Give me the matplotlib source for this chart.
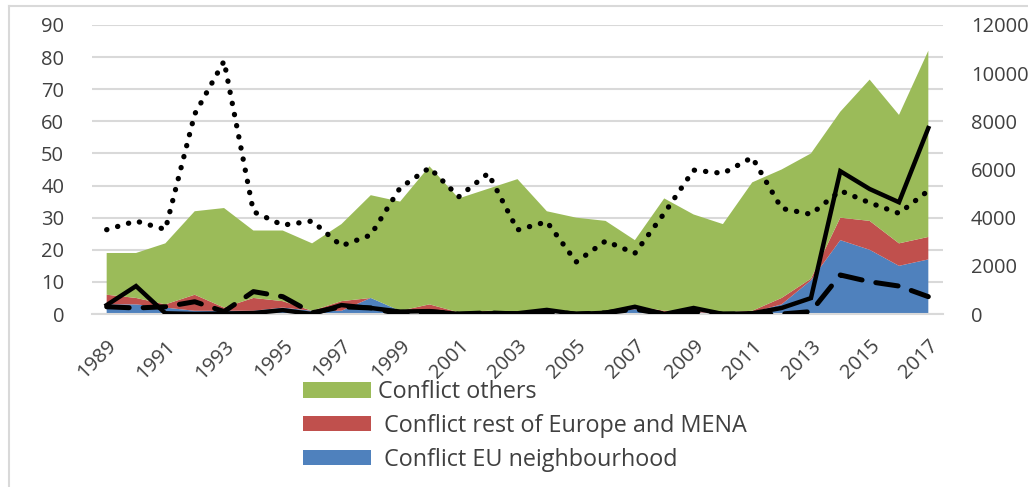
import matplotlib
matplotlib.use("Agg")
import matplotlib.pyplot as plt
from matplotlib.patches import Patch
from matplotlib.lines import Line2D
import numpy as np

plt.rcParams['font.family'] = ['Open Sans', 'DejaVu Sans']

# data
years = list(range(1989, 2018))
eu_neigh = [3, 3, 2, 1, 1, 1, 2, 1, 1, 5, 1, 0.5, 0.5, 0.5, 0.5, 0.5, 0.5, 0.5, 1.5,
            0.5, 0.5, 0.3, 0.5, 3, 10.5, 23, 20, 15, 17]
rest_eur_mena = [3, 2, 1, 5, 1, 4, 2, 0, 3, 0, 0, 2.5, 0, 0.5, 0, 0, 0, 0, 1,
                 0.5, 0.5, 0.2, 0.5, 2, 0.5, 7, 9, 7, 7]
others = [13, 14, 19, 26, 31, 21, 22, 21, 24, 32, 34, 43, 35.5, 38, 41.5, 31.5, 29.5, 28.5, 20.5,
          35, 30, 27.5, 40, 40, 39, 33, 44, 40, 58]

line_solid = [370, 1160, 30, 0, 20, 40, 160, 0, 370, 250, 100, 120, 0, 30, 30, 170, 0, 50, 300,
              0, 250, 0, 30, 250, 660, 5930, 5190, 4640, 7720]
line_dotted = [3500, 3860, 3510, 8300, 10500, 4250, 3690, 3860, 2830, 3280, 5240, 6070, 4870, 5840,
               3490, 3830, 2160, 3030, 2520, 4180, 5975, 5840, 6500, 4385, 4140, 5120, 4620, 4180, 5120]
line_dashed = [300, 250, 300, 510, 100, 930, 720, 50, 300, 250, 0, 100, 0, 50, 0, 100, 0, 50, 200,
               0, 100, 0, 0, 0, 100, 1620, 1340, 1160, 720]

green = '#9BBB59'
red = '#C0504D'
blue = '#4F81BD'
grid_c = '#D9D9D9'
txt_c = '#404040'

fig = plt.figure(figsize=(10.28, 4.87), dpi=100)
ax = fig.add_axes([92/1028, 1-314/487, (943-92)/1028, (314-25)/487])

ax.stackplot(years, eu_neigh, rest_eur_mena, others, colors=[blue, red, green], linewidth=0)
ax.set_xlim(1988.5, 2017.5)
ax.set_ylim(0, 90)
ax.set_yticks(range(0, 91, 10))
ax.yaxis.grid(True, color=grid_c, linewidth=1.5)
ax.set_axisbelow(True)
for s in ['top', 'right', 'left']:
    ax.spines[s].set_visible(False)
ax.spines['bottom'].set_color(grid_c)
ax.spines['bottom'].set_linewidth(1.5)
ax.set_xticks(years[::2])
ax.set_xticklabels([str(y) for y in years[::2]], rotation=45, ha='right', va='top',
                   rotation_mode='anchor')
ax.tick_params(axis='x', length=0, pad=16, labelsize=14.5, labelcolor=txt_c)
ax.tick_params(axis='y', length=0, pad=20, labelsize=14.5, labelcolor=txt_c)

ax2 = ax.twinx()
ax2.plot(years, line_dotted, color='black', linewidth=3.8, linestyle=(0, (0.05, 2.1)),
         dash_capstyle='round', solid_capstyle='round')
ax2.plot(years, line_dashed, color='black', linewidth=3.6, linestyle=(0, (4.5, 2.8)),
         dash_capstyle='round')
ax2.plot(years, line_solid, color='black', linewidth=3.2, solid_joinstyle='miter')
ax2.set_ylim(0, 12000)
ax2.set_yticks(range(0, 12001, 2000))
for s in ['top', 'right', 'left', 'bottom']:
    ax2.spines[s].set_visible(False)
ax2.tick_params(axis='y', length=0, pad=20, labelsize=14.5, labelcolor=txt_c)

handles = [Patch(facecolor=green), Patch(facecolor=red), Patch(facecolor=blue)]
labels = ['Conflict others', ' Conflict rest of Europe and MENA', ' Conflict EU neighbourhood']
fig.legend(handles, labels, loc='upper left', bbox_to_anchor=(303/1028, 1-380/487),
           frameon=False, fontsize=16.8, handlelength=2.9, handleheight=0.64,
           handletextpad=0.3, labelspacing=0.42, borderpad=0, borderaxespad=0,
           labelcolor=txt_c)

# chart border like the spreadsheet frame
fig.add_artist(Line2D([9/1028, 9/1028], [0, 1-6/487], color=grid_c, linewidth=1.5))
fig.add_artist(Line2D([9/1028, 1], [1-6/487, 1-6/487], color=grid_c, linewidth=1.5))

fig.savefig('out.png', dpi=100)
